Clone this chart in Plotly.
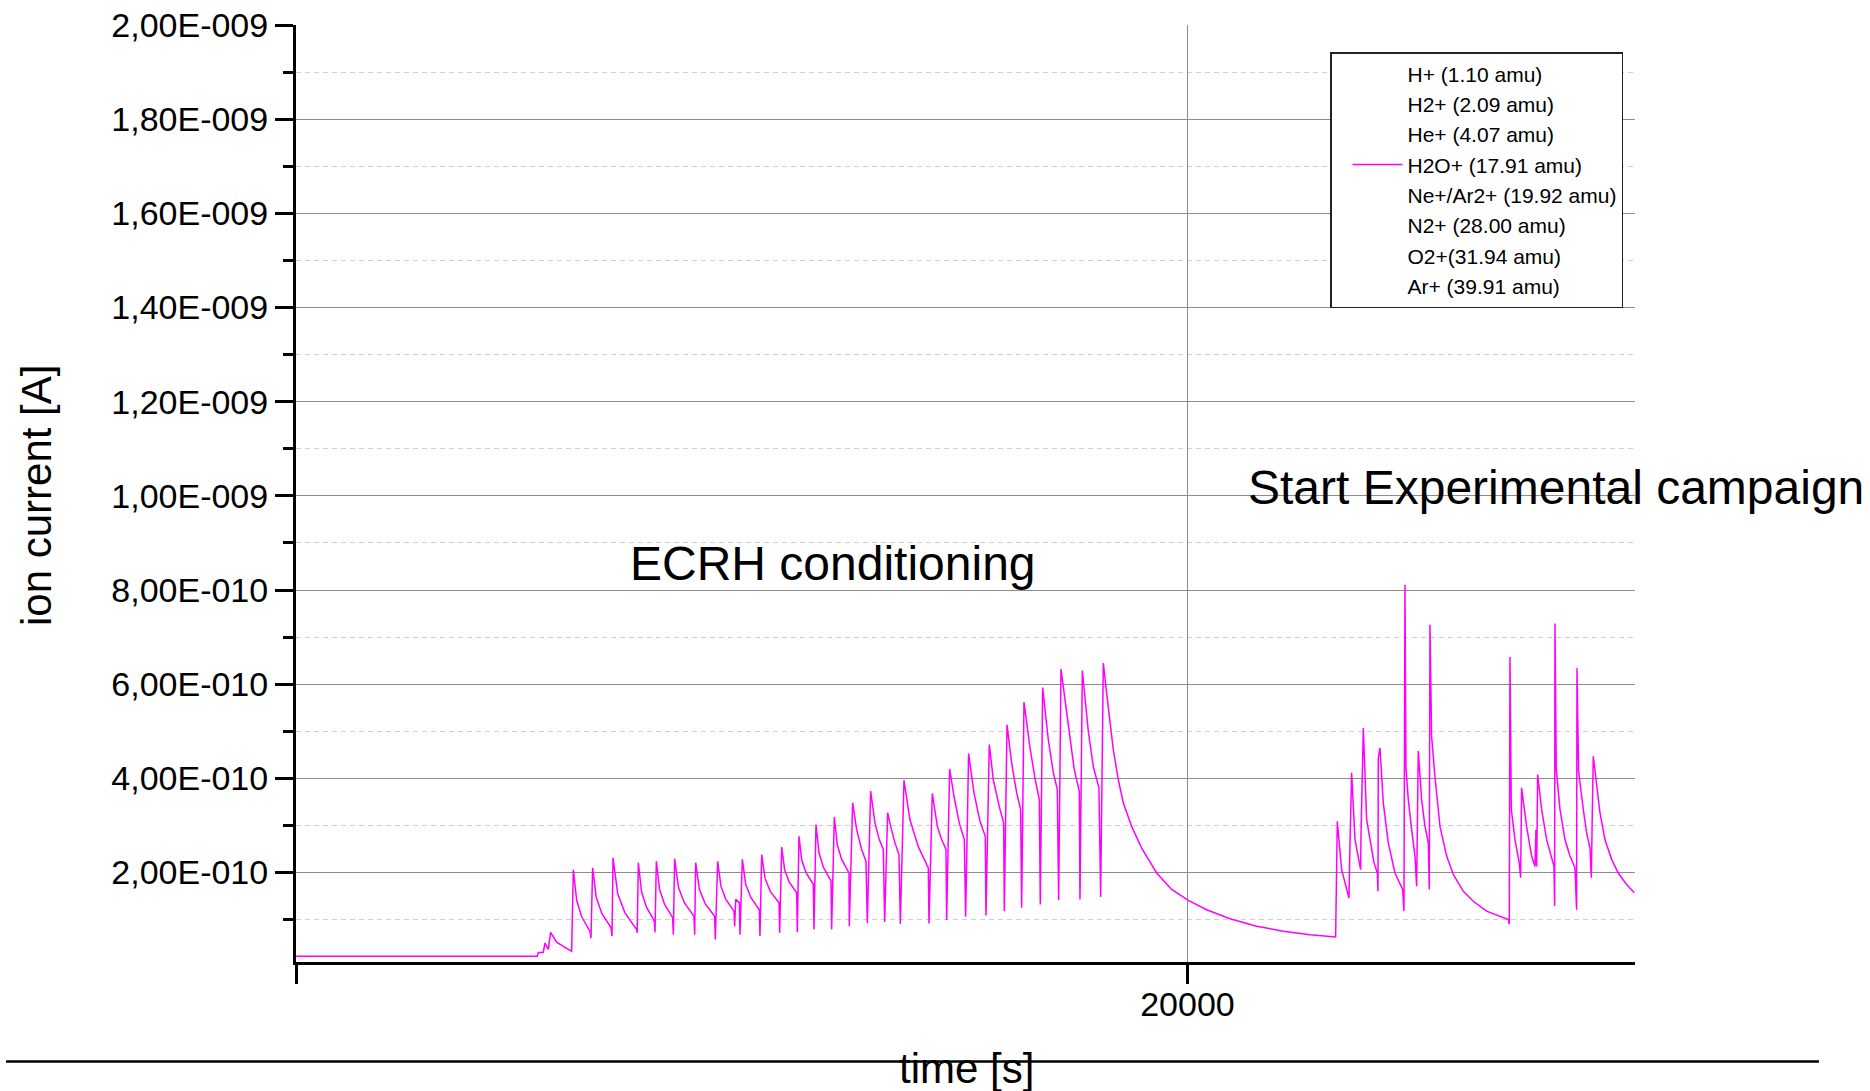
import numpy as np
import plotly.graph_objects as go

# ---------------- data ----------------
# time in seconds
time_s = [
    0, 5413, 5436, 5547, 5585, 5660, 5713, 5848, 5997, 6184,
    6222, 6297, 6409, 6596, 6618,
    6655, 6737, 6861, 7067, 7089,
    7112, 7218, 7377, 7642, 7655,
    7680, 7752, 7860, 8039, 8054,
    8084, 8157, 8267, 8450, 8465,
    8495, 8582, 8712, 8929, 8944,
    8966, 9051, 9179, 9392, 9407,
    9460, 9533, 9643, 9826, 9841, 9864, 9946, 9961,
    10013, 10089, 10203, 10394, 10409,
    10447, 10525, 10641, 10836, 10851,
    10896, 10963, 11064, 11232, 11247,
    11284, 11348, 11445, 11606, 11621,
    11666, 11733, 11834, 12002, 12017,
    12077, 12143, 12242, 12406, 12413,
    12488, 12578, 12690, 12787, 12817,
    12892, 12989, 13086, 13176, 13206,
    13273, 13341, 13438, 13528, 13558,
    13640, 13774, 13961, 14186, 14201,
    14275, 14388, 14485, 14582, 14597,
    14664, 14762, 14881, 14993, 15023,
    15090, 15210, 15345, 15464, 15479,
    15554, 15644, 15778, 15876, 15891,
    15951, 16055, 16168, 16257, 16280,
    16332, 16467, 16579, 16676, 16698,
    16751, 16878, 16990, 17080, 17110,
    17162, 17371, 17461, 17573, 17588,
    17641, 17775, 17887, 18014, 18052,
    18112, 18186, 18336, 18448, 18560, 18747, 18972, 19308, 19645, 20018,
    20430, 20953, 21552, 22150, 22748, 23324,
    23361, 23458, 23623,
    23645, 23683, 23758, 23885,
    23892, 23945, 24019, 24184, 24259, 24274,
    24281, 24318, 24393, 24505, 24655, 24827, 24857,
    24879, 24902, 24954, 25029, 25104, 25141,
    25156, 25178, 25253, 25328, 25403, 25425,
    25440, 25477, 25552, 25665, 25814, 25964, 26188, 26412, 26711, 27010, 27198, 27220,
    27235, 27265, 27347, 27444, 27474,
    27496, 27608, 27720, 27796, 27818, 27835, 27856, 27945, 28058, 28170, 28222, 28237,
    28244, 28274, 28357, 28469, 28581, 28693, 28730,
    28738, 28775, 28880, 28955, 29030, 29060,
    29082, 29104, 29254, 29366, 29516, 29665, 29852, 30024,
]

# H2O+ ion current in units of 1e-10 A
h2o_current_e10 = [
    0.22, 0.22, 0.30, 0.30, 0.50, 0.37, 0.73, 0.52, 0.43, 0.33,
    2.06, 1.41, 1.06, 0.75, 0.61,
    2.10, 1.47, 1.13, 0.83, 0.65,
    2.31, 1.55, 1.15, 0.79, 0.72,
    2.21, 1.59, 1.27, 0.97, 0.73,
    2.24, 1.64, 1.33, 1.04, 0.68,
    2.29, 1.68, 1.36, 1.07, 0.68,
    2.21, 1.64, 1.34, 1.07, 0.58,
    2.24, 1.71, 1.43, 1.18, 0.86, 1.43, 1.36, 0.68,
    2.28, 1.75, 1.47, 1.21, 0.65,
    2.38, 1.87, 1.60, 1.36, 0.72,
    2.54, 2.06, 1.80, 1.57, 0.73,
    2.77, 2.26, 1.99, 1.75, 0.79,
    3.02, 2.42, 2.11, 1.82, 0.79,
    3.18, 2.59, 2.28, 1.99, 0.86,
    3.48, 2.91, 2.49, 2.24, 0.93,
    3.73, 3.05, 2.70, 2.49, 0.95,
    3.27, 2.98, 2.63, 2.38, 0.91,
    3.96, 3.12, 2.55, 2.10, 0.92,
    3.68, 2.98, 2.70, 2.49, 0.99,
    4.20, 3.62, 3.05, 2.70, 1.06,
    4.53, 3.69, 3.09, 2.77, 1.09,
    4.72, 3.97, 3.40, 3.05, 1.18,
    5.14, 4.33, 3.69, 3.34, 1.25,
    5.62, 4.65, 4.00, 3.55, 1.32,
    5.93, 4.82, 4.12, 3.76, 1.41,
    6.32, 4.89, 4.18, 3.73, 1.43,
    6.29, 5.00, 4.25, 3.80, 1.48,
    6.45, 5.81, 4.61, 3.97, 3.48, 2.98, 2.52, 1.99, 1.64, 1.41,
    1.21, 1.02, 0.86, 0.754, 0.68, 0.63,
    3.09, 2.06, 1.46,
    2.56, 4.12, 2.70, 2.06,
    2.74, 5.07, 3.13, 2.21, 1.99, 1.60,
    4.43, 4.65, 3.48, 2.63, 1.99, 1.64, 1.18,
    8.11, 4.22, 3.55, 2.91, 2.35, 1.71,
    3.41, 4.58, 3.55, 2.98, 2.63, 1.64,
    7.26, 4.89, 4.04, 2.98, 2.35, 1.96, 1.60, 1.39, 1.18, 1.06, 1.00, 0.90,
    6.58, 3.34, 2.70, 2.20, 1.89,
    3.80, 2.98, 2.35, 2.13, 2.91, 2.13, 4.08, 3.34, 2.70, 2.28, 2.13, 1.29,
    7.29, 4.19, 3.34, 2.70, 2.35, 2.10, 1.21,
    6.34, 4.15, 3.34, 2.84, 2.52, 1.89,
    3.27, 4.47, 3.27, 2.70, 2.28, 1.99, 1.745, 1.57,
]

series_names = [
    "H+ (1.10 amu)",
    "H2+ (2.09 amu)",
    "He+ (4.07 amu)",
    "H2O+ (17.91 amu)",
    "Ne+/Ar2+ (19.92 amu)",
    "N2+ (28.00 amu)",
    "O2+(31.94 amu)",
    "Ar+ (39.91 amu)",
]

y_tick_values = [2e-10, 4e-10, 6e-10, 8e-10, 1e-9, 1.2e-9, 1.4e-9, 1.6e-9, 1.8e-9, 2e-9]
y_tick_labels = ["2,00E-010", "4,00E-010", "6,00E-010", "8,00E-010", "1,00E-009",
                 "1,20E-009", "1,40E-009", "1,60E-009", "1,80E-009", "2,00E-009"]
x_tick_values = [0, 20000]
x_tick_labels = ["", "20000"]

# ---------------- figure ----------------
FONT = "Arial, 'Liberation Sans', sans-serif"
W, H = 1870, 1091
L, R, T, B = 296, 235, 25, 129
pw, ph = W - L - R, H - T - B


def px_x(p):
    return (p - L) / pw


def px_y(p):
    return (H - B - p) / ph


fig = go.Figure()
for name in series_names:
    if name.startswith("H2O+"):
        fig.add_trace(go.Scatter(
            x=time_s, y=np.array(h2o_current_e10) * 1e-10, mode="lines", name=name,
            line=dict(color="#ff00ff", width=1.5),
        ))
    else:
        fig.add_trace(go.Scatter(
            x=[None], y=[None], mode="lines", name=name,
            line=dict(color="rgba(0,0,0,0)", width=1.5),
        ))

fig.update_layout(
    width=W, height=H,
    margin=dict(l=L, r=R, t=T, b=B, pad=0, autoexpand=False),
    paper_bgcolor="white", plot_bgcolor="white",
    font=dict(family=FONT, color="black"),
    showlegend=True,
    legend=dict(
        xref="paper", yref="paper",
        x=px_x(1330), y=px_y(52), xanchor="left", yanchor="top",
        font=dict(family=FONT, size=21, color="black"),
        bordercolor="#222222", borderwidth=1.5, bgcolor="white",
        itemwidth=50, tracegroupgap=0, indentation=16,
        entrywidth=226, entrywidthmode="pixels",
    ),
    xaxis=dict(
        range=[0, 30040], showline=True, linecolor="black", linewidth=3,
        ticks="outside", ticklen=19, tickwidth=3, tickcolor="black",
        tickmode="array", tickvals=x_tick_values, ticktext=x_tick_labels,
        tickfont=dict(family=FONT, size=34, color="black"),
        showgrid=True, gridcolor="#8c8c8c", gridwidth=1, zeroline=False,
        ticklabelstandoff=-9,
    ),
    yaxis=dict(
        range=[1e-11, 2e-9], showline=True, linecolor="black", linewidth=3,
        ticks="outside", ticklen=18, tickwidth=3, tickcolor="black",
        tickmode="array", tickvals=y_tick_values, ticktext=y_tick_labels,
        tickfont=dict(family=FONT, size=34, color="black"),
        showgrid=True, gridcolor="#8c8c8c", gridwidth=1, zeroline=False,
        ticklabelstandoff=0,
        minor=dict(
            tickmode="linear", tick0=0, dtick=1e-10,
            ticks="outside", ticklen=10, tickwidth=3, tickcolor="black",
            showgrid=True, gridcolor="#cfcfcf", gridwidth=1, griddash="5px,4px",
        ),
    ),
    annotations=[
        dict(text="ECRH conditioning", xref="paper", yref="paper",
             x=px_x(832.5), y=px_y(563), xanchor="center", yanchor="middle",
             showarrow=False, font=dict(family=FONT, size=48, color="black")),
        dict(text="Start Experimental campaign", xref="paper", yref="paper",
             x=px_x(1555.5), y=px_y(487), xanchor="center", yanchor="middle",
             showarrow=False, font=dict(family=FONT, size=48, color="black")),
        dict(text="time [s]", xref="paper", yref="paper",
             x=px_x(966), y=px_y(1068), xanchor="center", yanchor="middle",
             showarrow=False, font=dict(family=FONT, size=42, color="black")),
        dict(text="ion current [A]", xref="paper", yref="paper",
             x=px_x(36), y=px_y(496), xanchor="center", yanchor="middle",
             textangle=-90, showarrow=False,
             font=dict(family=FONT, size=42, color="black")),
    ],
    shapes=[
        dict(type="line", xref="paper", yref="paper",
             x0=px_x(6), x1=px_x(1819), y0=px_y(1061.5), y1=px_y(1061.5),
             line=dict(color="black", width=2.5), layer="below"),
    ],
)

fig.write_html("out.html")
